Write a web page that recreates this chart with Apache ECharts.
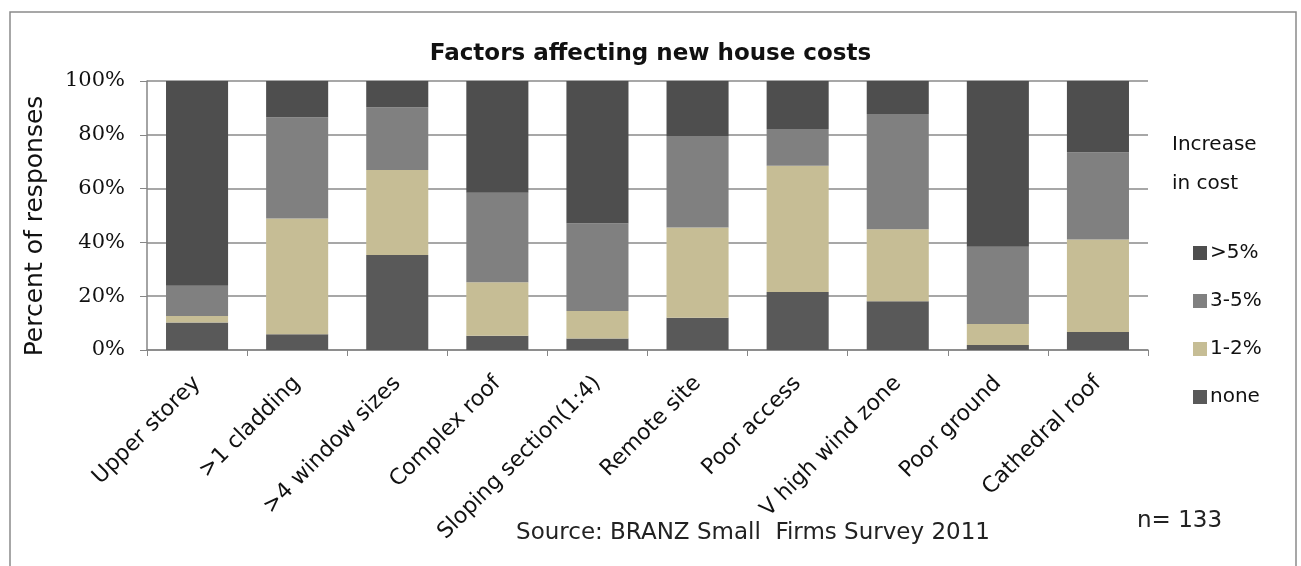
<!DOCTYPE html>
<html>
<head>
<meta charset="utf-8">
<script src="https://cdn.jsdelivr.net/npm/echarts@6/dist/echarts.min.js"></script>
<style>
  html, body { margin: 0; padding: 0; background: #fff; }
  #chart { width: 1301px; height: 566px; }
</style>
</head>
<body>
<div id="chart"></div>
<script>
// categorias do eixo x
var categories = ['Upper storey', '>1 cladding', '>4 window sizes', 'Complex roof', 'Sloping section(1:4)',
    'Remote site', 'Poor access', 'V high wind zone', 'Poor ground', 'Cathedral roof'];

// percentagens por nivel de aumento de custo
var noneValues = [10.2, 5.9, 35.3, 5.3, 4.3, 12.0, 21.6, 18.1, 1.9, 6.7];
var low12Values = [2.4, 43.0, 31.6, 19.9, 10.2, 33.5, 46.9, 26.8, 7.8, 34.4];
var mid35Values = [11.3, 37.6, 23.3, 33.3, 32.6, 34.1, 13.7, 42.8, 28.7, 32.4];
var high5Values = [76.1, 13.5, 9.8, 41.5, 52.9, 20.4, 17.8, 12.3, 61.6, 26.5];

var yTicks = [0, 20, 40, 60, 80, 100];
var legendOrder = ['>5%', '3-5%', '1-2%', 'none'];

var sansFont = '"DejaVu Sans", "Noto Sans", sans-serif';
var serifFont = '"DejaVu Serif", "Liberation Serif", serif';

var chart = echarts.init(document.getElementById('chart'));

function barSeries(name, data, color) {
    return {
        name: name,
        type: 'bar',
        stack: 'total',
        barWidth: '62%',
        data: data,
        itemStyle: { color: color },
        emphasis: { disabled: true }
    };
}

var option = {
    backgroundColor: '#fff',
    animation: false,
    title: {
        text: 'Factors affecting new house costs',
        left: 'center',
        top: 38,
        textStyle: { fontFamily: sansFont, fontSize: 23, fontWeight: 'bold', color: '#111' }
    },
    grid: {
        left: 147,
        right: 153,
        top: 81,
        bottom: 216
    },
    legend: {
        orient: 'vertical',
        left: 1188,
        top: 238,
        itemWidth: 14,
        itemHeight: 14,
        itemGap: 28,
        icon: 'rect',
        data: legendOrder,
        textStyle: { fontFamily: sansFont, fontSize: 20, color: '#111', padding: [0, 0, 0, -2] }
    },
    xAxis: {
        type: 'category',
        data: categories,
        axisLine: { lineStyle: { color: '#868686', width: 1.5 } },
        axisTick: { show: true, length: 6, lineStyle: { color: '#868686' } },
        axisLabel: {
            rotate: 45,
            margin: 30,
            interval: 0,
            fontFamily: sansFont,
            fontSize: 22,
            color: '#111'
        }
    },
    yAxis: {
        type: 'value',
        min: yTicks[0],
        max: yTicks[yTicks.length - 1],
        interval: 20,
        axisLine: { show: true, lineStyle: { color: '#868686', width: 1.5 } },
        axisTick: { show: true, length: 7, lineStyle: { color: '#868686' } },
        axisLabel: {
            formatter: '{value}%',
            margin: 22,
            fontFamily: serifFont,
            fontSize: 21,
            color: '#111'
        },
        splitLine: { lineStyle: { color: '#8a8a8a', width: 1.5 } }
    },
    series: [
        barSeries('none', noneValues, '#595959'),
        barSeries('1-2%', low12Values, '#c6bd95'),
        barSeries('3-5%', mid35Values, '#808080'),
        barSeries('>5%', high5Values, '#4e4e4e')
    ],
    graphic: [
        {
            type: 'rect',
            shape: { x: 10, y: 12, width: 1286, height: 560 },
            style: { fill: null, stroke: '#8a8a8a', lineWidth: 1.5 },
            silent: true
        },
        {
            // titulo do eixo y
            type: 'text',
            x: 35,
            y: 226,
            rotation: Math.PI / 2,
            style: {
                text: 'Percent of responses',
                fontFamily: sansFont,
                fontSize: 25,
                fill: '#111',
                align: 'center',
                verticalAlign: 'middle'
            }
        },
        {
            type: 'text',
            left: 1172,
            top: 125,
            style: { text: 'Increase\nin cost', fontFamily: sansFont, fontSize: 20, lineHeight: 39, fill: '#111' }
        },
        {
            type: 'text',
            x: 753,
            y: 533,
            style: {
                text: 'Source: BRANZ Small  Firms Survey 2011',
                fontFamily: sansFont,
                fontSize: 23,
                fill: '#222',
                align: 'center',
                verticalAlign: 'middle'
            }
        },
        {
            type: 'text',
            x: 1137,
            y: 521,
            style: { text: 'n= 133', fontFamily: sansFont, fontSize: 23, fill: '#222', verticalAlign: 'middle' }
        }
    ]
};

chart.setOption(option);
</script>
</body>
</html>
